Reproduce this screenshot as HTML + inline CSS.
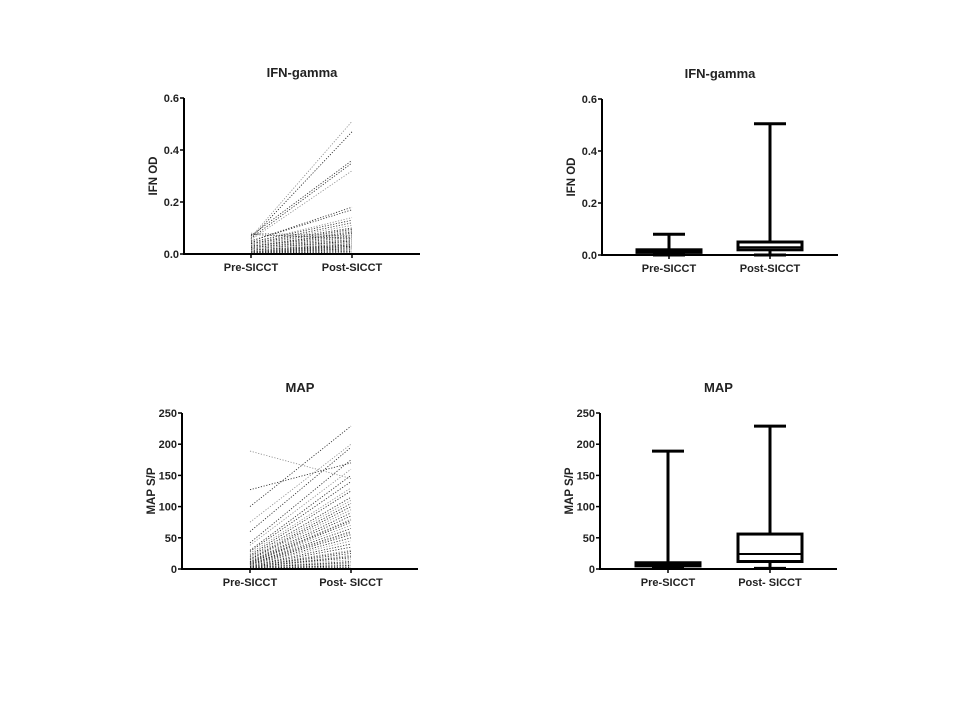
<!DOCTYPE html>
<html><head><meta charset="utf-8"><style>
html,body{margin:0;padding:0;background:#fff;}
svg{display:block;font-family:"Liberation Sans",Arial,sans-serif;font-weight:bold;}
</style></head><body>
<svg id="fig" width="960" height="720" viewBox="0 0 960 720"></svg>
<script>
const ifnPre=[0.08,0.075,0.07,0.065,0.06,0.06,0.055,0.05,0.05,0.045,0.045,0.04,0.04,0.04,0.035,0.035,0.03,0.03,0.03,0.03,0.025,0.025,0.025,0.02,0.02,0.02,0.02,0.02,0.015,0.015,0.015,0.015,0.01,0.01,0.01,0.01,0.01,0.008,0.008,0.006,0.005,0.005,0.004,0.003,0.002];
const ifnPost=[0.07,0.06,0.36,0.51,0.47,0.35,0.32,0.18,0.17,0.14,0.13,0.12,0.11,0.1,0.095,0.09,0.085,0.08,0.075,0.07,0.065,0.06,0.055,0.05,0.05,0.05,0.045,0.045,0.04,0.04,0.04,0.035,0.035,0.03,0.03,0.03,0.025,0.025,0.02,0.02,0.02,0.015,0.01,0.01,0.005];
const mapPre=[189,127,100,75,60,42,38,30,28,25,22,20,18,16,15,14,12,11,10,10,9,9,8,8,7,7,6,6,5,5,5,4,4,3,3,3,2,2,2,1,1,1,1,1,1];
const mapPost=[145,170,229,200,195,175,160,150,140,130,125,115,110,105,100,95,90,85,80,78,75,70,65,60,58,55,50,45,40,35,30,28,25,22,20,18,15,12,10,8,6,5,3,2,1];
const ifnTicks=[0,0.2,0.4,0.6];
const ifnTickLabels=["0.0","0.2","0.4","0.6"];
const mapTicks=[0,50,100,150,200,250];
const mapTickLabels=["0","50","100","150","200","250"];
const ifnBoxPre=[0,0.01,0.015,0.02,0.08];
const ifnBoxPost=[0,0.02,0.03,0.05,0.505];
const mapBoxPre=[1,5,7,10,189];
const mapBoxPost=[1,12,24,56,229];

const NS="http://www.w3.org/2000/svg";
const svg=document.getElementById('fig');
function mk(tag,attrs,parent){const e=document.createElementNS(NS,tag);for(const k in attrs)e.setAttribute(k,attrs[k]);(parent||svg).appendChild(e);return e;}

function panel(o){
  const g=mk('g',{});
  
  
  const ys=v=>o.y0-(v-o.min)/(o.max-o.min)*(o.y0-o.y1);
  const t=mk('text',{x:o.ax+(o.xend-o.ax)/2,y:o.y1-21,'font-size':13,'text-anchor':'middle',fill:'#222'},g);
  t.textContent=o.title;
  
  
  const yl=mk('text',{x:0,y:0,'font-size':11.5,'text-anchor':'middle',fill:'#222',transform:`translate(${o.ax-27},${(o.y0+o.y1)/2}) rotate(-90)`},g);
  yl.textContent=o.ylabel;
  
  
  // marks
  if(o.pre){
    for(let i=0;i<o.pre.length;i++){
      const ln=mk('line',{x1:o.xp,y1:ys(o.pre[i]),x2:o.xq,y2:ys(o.post[i]),stroke:i%3==0?'#888':'#222','stroke-width':0.8,'stroke-dasharray':'1.2,1.6'},g);
      
      
    }
  } else {
    [[o.box1,o.xp],[o.box2,o.xq]].forEach(([b,cx],j)=>{
      const bg=mk('g',{stroke:'#000','stroke-width':3,fill:'none'},g);
      
      
      const hw=32,cw=16;
      mk('line',{x1:cx,y1:ys(b[0]),x2:cx,y2:ys(b[4])},bg);
      mk('line',{x1:cx-cw,y1:ys(b[4]),x2:cx+cw,y2:ys(b[4])},bg);
      mk('line',{x1:cx-cw,y1:ys(b[0]),x2:cx+cw,y2:ys(b[0])},bg);
      mk('rect',{x:cx-hw,y:ys(b[3]),width:hw*2,height:Math.max(ys(b[1])-ys(b[3]),0.5),fill:'#fff'},bg);
      mk('line',{x1:cx-hw,y1:ys(b[2]),x2:cx+hw,y2:ys(b[2]),'stroke-width':2},bg);
    });
  }
  // axes
  mk('line',{x1:o.ax,y1:o.y1,x2:o.ax,y2:o.y0+1,stroke:'#000','stroke-width':2},g);
  mk('line',{x1:o.ax-1,y1:o.y0,x2:o.xend,y2:o.y0,stroke:'#000','stroke-width':2},g);
  o.ticks.forEach((v,i)=>{
    mk('line',{x1:o.ax-4,y1:ys(v),x2:o.ax,y2:ys(v),stroke:'#000','stroke-width':1.5},g);
    const tl=mk('text',{x:o.ax-5,y:ys(v)+4,'font-size':11,'text-anchor':'end',fill:'#222'},g);
    tl.textContent=o.tickLabels[i];
    
    
  });
  [[o.xp,o.cat1],[o.xq,o.cat2]].forEach(([x,l])=>{
    mk('line',{x1:x,y1:o.y0,x2:x,y2:o.y0+4,stroke:'#000','stroke-width':1.5},g);
    const xl=mk('text',{x:x,y:o.y0+17,'font-size':11,'text-anchor':'middle',fill:'#222'},g);
    xl.textContent=l;
    
    
  });
}
panel({name:'ifn-paired-chart',title:'IFN-gamma',ylabel:'IFN OD',ax:184,xend:420,y0:254,y1:98,min:0,max:0.6,xp:251,xq:352,ticks:ifnTicks,tickLabels:ifnTickLabels,pre:ifnPre,post:ifnPost,cat1:'Pre-SICCT',cat2:'Post-SICCT'});
panel({name:'ifn-box-chart',title:'IFN-gamma',ylabel:'IFN OD',ax:602,xend:838,y0:255,y1:99,min:0,max:0.6,xp:669,xq:770,ticks:ifnTicks,tickLabels:ifnTickLabels,box1:ifnBoxPre,box2:ifnBoxPost,cat1:'Pre-SICCT',cat2:'Post-SICCT'});
panel({name:'map-paired-chart',title:'MAP',ylabel:'MAP S/P',ax:182,xend:418,y0:569,y1:413,min:0,max:250,xp:250,xq:351,ticks:mapTicks,tickLabels:mapTickLabels,pre:mapPre,post:mapPost,cat1:'Pre-SICCT',cat2:'Post- SICCT'});
panel({name:'map-box-chart',title:'MAP',ylabel:'MAP S/P',ax:600,xend:837,y0:569,y1:413,min:0,max:250,xp:668,xq:770,ticks:mapTicks,tickLabels:mapTickLabels,box1:mapBoxPre,box2:mapBoxPost,cat1:'Pre-SICCT',cat2:'Post- SICCT'});
</script>
</body></html>
